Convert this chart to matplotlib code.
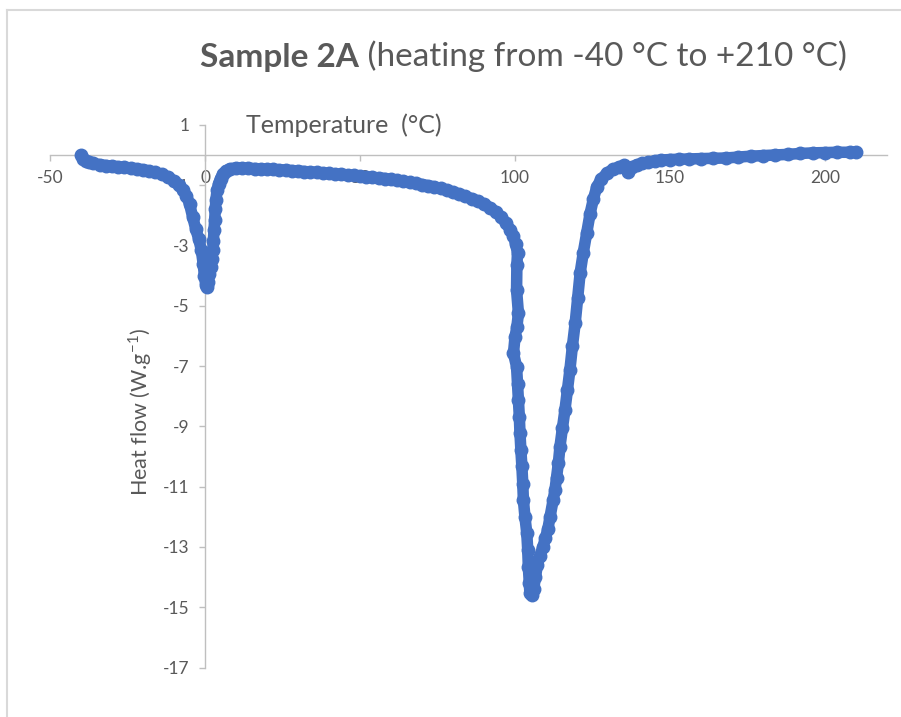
"""DSC heating curve for sample 2A, drawn in the style of the Excel scatter chart."""

import matplotlib
matplotlib.use("Agg")
import matplotlib.pyplot as plt
from matplotlib.lines import Line2D

# temperature (°C) and heat flow (W/g)
temperature = [
    -40.0, -39.5, -38.5, -37.5, -36, -34, -32, -30, -28, -26, -24, -22, -20, -18,
    -16, -14, -12, -10, -8.5, -7, -6, -5, -4, -3, -2, -1.2, -0.6, -0.2, 0.2, 0.6,
    1.0, 1.4, 1.8, 2.2, 2.5, 2.7, 2.9, 3.1, 3.3, 3.5, 3.9, 4.4, 5.0, 5.8, 6.8, 8,
    10, 12, 14, 16, 18, 20, 22, 24, 26, 28, 30, 32, 34, 36, 38, 40, 42, 44, 46, 48,
    50, 52, 54, 56, 58, 60, 62, 64, 66, 68, 70, 72, 74, 76, 78, 80, 82, 84, 86, 88,
    90, 92, 94, 95.5, 97, 98.5, 99.5, 100.2, 100.8, 100.6, 100.5, 101.1, 100.6,
    100.0, 99.5, 100.5, 100.8, 101.1, 101.4, 101.6, 101.9, 102.2, 102.5, 102.7,
    103.2, 103.8, 104.1, 104.3, 104.6, 104.8, 105.4, 106.0, 106.6, 107.2, 108.0,
    109.0, 109.8, 110.6, 111.3, 112.3, 112.9, 113.4, 114.0, 114.5, 115.3, 116.1,
    116.9, 117.7, 118.5, 119.4, 120.2, 121.0, 122.0, 123.1, 124.2, 125.3, 126.4,
    127.8, 129.6, 131.5, 133.5, 135.3, 136.5, 137.8, 139.2, 141, 143, 145, 147,
    150, 153, 156, 160, 164, 168, 172, 176, 180, 184, 188, 192, 196, 200, 204,
    208, 210,
]
heat_flow = [
    0.00, -0.12, -0.20, -0.24, -0.28, -0.32, -0.35, -0.37, -0.39, -0.41, -0.43,
    -0.46, -0.49, -0.53, -0.58, -0.64, -0.73, -0.86, -1.00, -1.16, -1.35, -1.62,
    -2.05, -2.45, -2.80, -3.15, -3.6, -4.0, -4.3, -4.37, -4.2, -3.95, -3.7, -3.45,
    -3.15, -2.85, -2.5, -2.15, -1.8, -1.5, -1.16, -0.95, -0.78, -0.62, -0.52,
    -0.46, -0.43, -0.43, -0.44, -0.45, -0.46, -0.47, -0.48, -0.49, -0.50, -0.52,
    -0.53, -0.55, -0.56, -0.58, -0.59, -0.61, -0.63, -0.64, -0.66, -0.68, -0.70,
    -0.72, -0.74, -0.76, -0.78, -0.81, -0.84, -0.87, -0.90, -0.94, -0.98, -1.02,
    -1.06, -1.11, -1.17, -1.23, -1.30, -1.37, -1.45, -1.53, -1.63, -1.75, -1.90,
    -2.05, -2.25, -2.48, -2.70, -2.95, -3.25, -3.65, -4.48, -5.25, -5.7, -6.03,
    -6.58, -7.02, -7.6, -8.13, -8.7, -9.23, -9.8, -10.3, -10.9, -11.44, -12.0,
    -12.55, -13.1, -13.66, -14.2, -14.53, -14.6, -14.4, -14.0, -13.6, -13.3,
    -13.0, -12.7, -12.4, -12.0, -11.45, -11.1, -10.7, -10.2, -9.67, -9.05, -8.46,
    -7.8, -7.13, -6.35, -5.58, -4.75, -3.92, -3.25, -2.6, -1.95, -1.45, -1.05,
    -0.80, -0.61, -0.48, -0.40, -0.34, -0.55, -0.40, -0.33, -0.28, -0.24, -0.20,
    -0.17, -0.15, -0.14, -0.13, -0.12, -0.11, -0.10, -0.07, -0.04, -0.02, 0.00,
    0.02, 0.05, 0.07, 0.08, 0.09, 0.09, 0.10,
]

x_ticks = [-50, 0, 50, 100, 150, 200]
y_ticks = [1, -1, -3, -5, -7, -9, -11, -13, -15, -17]

BLUE = "#4472C4"
TEXT = "#595959"
AXIS = "#BFBFBF"
FONT = "Lato"


def main():
    plt.rcParams["font.family"] = [FONT, "DejaVu Sans"]
    plt.rcParams["axes.unicode_minus"] = False
    plt.rcParams["mathtext.fontset"] = "custom"
    plt.rcParams["mathtext.rm"] = FONT

    fig = plt.figure(figsize=(9.01, 7.17), dpi=100)
    ax = fig.add_axes([0.0555, 0.0689, 0.929, 0.757])

    ax.plot(temperature, heat_flow, color=BLUE, lw=8.3, marker="o", ms=9,
            mec=BLUE, mfc=BLUE, solid_joinstyle="round", solid_capstyle="round",
            zorder=3, clip_on=False)

    ax.set_xlim(-50, 220)
    ax.set_ylim(-17, 1)

    # excel style: axes cross at the origin
    ax.spines["left"].set_position(("data", 0))
    ax.spines["bottom"].set_position(("data", 0))
    for side in ["top", "right"]:
        ax.spines[side].set_visible(False)
    for side in ["left", "bottom"]:
        ax.spines[side].set_color(AXIS)
        ax.spines[side].set_linewidth(1.0)

    ax.set_xticks(x_ticks)
    ax.set_xticklabels([str(t) for t in x_ticks])
    ax.set_yticks(y_ticks)
    ax.set_yticklabels([str(t) for t in y_ticks])
    ax.tick_params(axis="both", direction="out", length=4, width=1.0,
                   color=AXIS, labelcolor=TEXT, labelsize=12.5, pad=7)

    ax.text(0.351, 1.0, "Temperature  (°C)", transform=ax.transAxes,
            ha="center", va="center", fontsize=18, color=TEXT)
    fig.text(140 / 901, 1 - 412 / 717, "Heat flow (W.g$^{\\mathregular{-1}}$)",
             rotation=90, ha="center", va="center", fontsize=15.5, color=TEXT)

    # title: bold sample name followed by regular text
    t1 = fig.text(200 / 901, 1 - 58 / 717, "Sample 2A", fontsize=24,
                  fontweight="bold", color=TEXT, ha="left", va="center")
    ax.annotate(" (heating from -40 °C to +210 °C)", xy=(1, 0), xycoords=t1,
                ha="left", va="bottom", fontsize=24, color=TEXT,
                annotation_clip=False)

    # chart area border (only top and left are inside the picture)
    fig.add_artist(Line2D([7 / 901, 7 / 901], [0, 1 - 10 / 717],
                          transform=fig.transFigure, color="#D9D9D9", lw=1.5))
    fig.add_artist(Line2D([7 / 901, 1], [1 - 10 / 717, 1 - 10 / 717],
                          transform=fig.transFigure, color="#D9D9D9", lw=1.5))

    fig.savefig("out.png", dpi=100)


if __name__ == "__main__":
    main()
